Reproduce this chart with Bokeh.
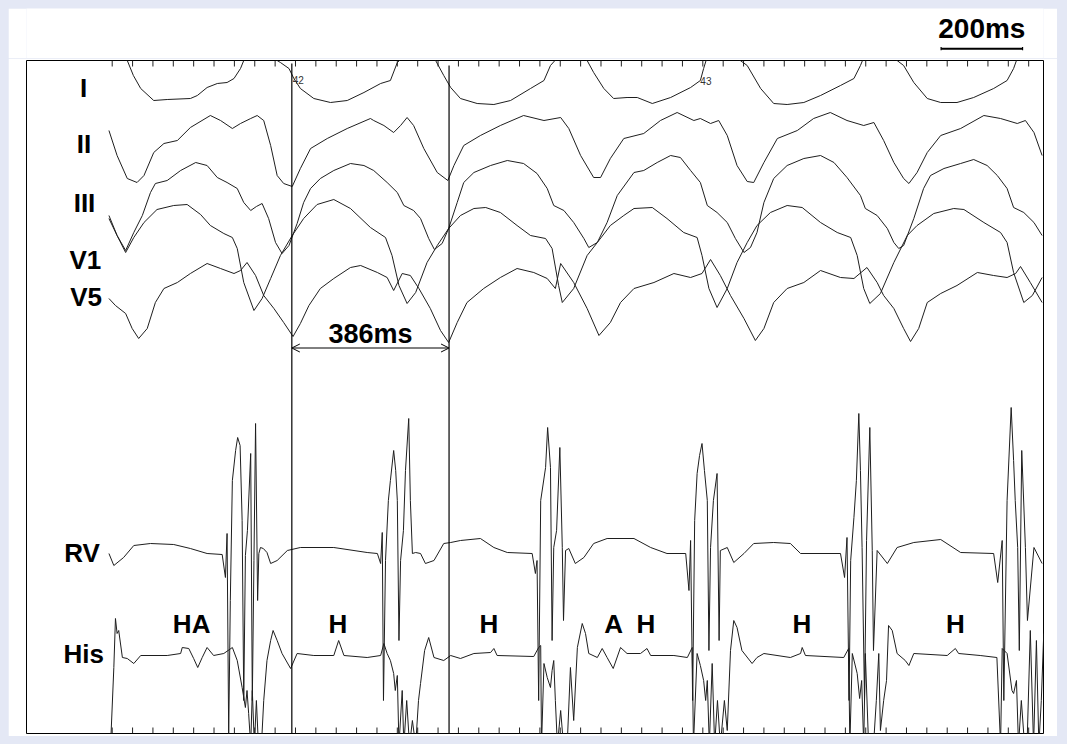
from bokeh.plotting import figure
from bokeh.models import Range1d, Arrow, OpenHead, GlobalInlineStyleSheet
from bokeh.layouts import column
from bokeh.embed import file_html
from bokeh.resources import INLINE
from bokeh.core.properties import value

# ---------------- data: (time in ms, amplitude in display units) ----------------
lead_I = [(141,45),(187,30),(202,15),(220,2),(252,-10),(285,-9),(342,-8),(359,-5),(383,3),(408,7),
          (432,8),(449,12),(465,22),(473,30),(514,45),(555,30),(563,28),(584,22),(596,12),(612,2),
          (645,-8),(686,-12),(727,-10),(768,-2),(809,7),(833,10),(850,28),(895,45),(944,30),(964,15),
          (981,3),(1005,-8),(1046,-13),(1087,-14),(1128,-10),(1177,2),(1210,10),(1226,25),(1270,45),(1316,30),
          (1332,18),(1357,2),(1381,-8),(1414,-7),(1439,-7),(1476,-13),(1521,-7),(1570,3),(1594,10),(1602,22),
          (1608,30),(1648,45),(1692,30),(1709,25),(1742,2),(1774,-13),(1807,-14),(1848,-12),(1889,-5),(1938,5),
          (1971,12),(1987,25),(1992,30),(2036,45),(2077,30),(2093,25),(2118,8),(2151,-8),(2184,-12),(2224,-12),
          (2265,-7),(2314,2),(2347,10),(2363,22),(2370,30),(2404,45),(2436,45)]

lead_II = [(142,20),(162,-5),(187,-28),(211,-32),(228,-25),(252,-2),(277,7),(310,10),(342,23),(391,35),
           (416,30),(445,22),(465,27),(490,32),(506,35),(522,30),(539,5),(555,-25),(571,-33),(592,-36),
           (612,-18),(637,2),(678,12),(727,22),(784,32),(792,30),(817,25),(841,18),(858,25),(874,33),
           (890,25),(915,2),(948,-22),(974,-30),(989,-15),(1013,5),(1054,15),(1103,25),(1160,35),(1210,30),
           (1251,33),(1271,22),(1300,-5),(1332,-27),(1349,-27),(1373,-8),(1406,12),(1455,17),(1496,30),(1537,38),
           (1578,30),(1594,32),(1619,27),(1639,30),(1660,15),(1684,-15),(1709,-31),(1725,-32),(1750,-12),(1783,12),
           (1832,20),(1872,32),(1913,38),(1954,30),(1995,25),(2020,28),(2044,10),(2069,-12),(2093,-28),(2106,-33),
           (2126,-22),(2151,-2),(2184,15),(2233,22),(2290,35),(2331,32),(2372,27),(2392,30),(2413,18),(2433,-5)]

lead_III = [(142,-8),(162,-25),(183,-40),(203,-22),(224,-5),(244,18),(256,27),(285,30),(318,40),(355,48),
            (383,45),(408,33),(432,28),(457,22),(473,8),(490,0),(504,4),(518,7),(534,-8),(551,-32),
            (567,-43),(584,-35),(604,-13),(620,8),(637,22),(661,32),(694,40),(735,47),(768,45),(792,40),
            (825,28),(850,18),(866,5),(890,0),(907,-8),(927,-28),(941,-39),(960,-33),(976,-18),(997,8),
            (1013,28),(1038,38),(1079,45),(1120,50),(1160,47),(1193,37),(1218,22),(1234,5),(1259,0),(1283,-12),
            (1308,-28),(1320,-37),(1341,-32),(1365,-12),(1390,15),(1431,38),(1455,40),(1488,48),(1521,55),(1545,53),
            (1570,40),(1594,28),(1611,5),(1635,-2),(1660,-12),(1680,-28),(1701,-42),(1717,-37),(1733,-22),(1750,8),
            (1774,32),(1807,45),(1848,52),(1889,55),(1922,48),(1954,33),(1987,15),(1999,2),(2028,-5),(2053,-18),
            (2069,-32),(2081,-38),(2093,-35),(2118,-8),(2142,22),(2159,35),(2192,42),(2233,47),(2265,51),(2298,45),
            (2323,35),(2347,22),(2363,3),(2388,-2),(2413,-12),(2433,-25)]

lead_V1 = [(142,40),(162,20),(183,3),(203,18),(228,33),(260,46),(301,50),(334,51),(367,41),(391,30),
           (424,22),(445,18),(457,7),(473,-27),(498,-55),(518,-43),(539,-23),(563,0),(592,20),(620,37),
           (653,51),(694,56),(735,47),(784,28),(821,18),(837,0),(854,-30),(874,-48),(895,-37),(923,-7),
           (948,10),(976,27),(1005,40),(1038,47),(1067,48),(1103,43),(1144,30),(1177,20),(1214,17),(1230,7),
           (1246,-30),(1255,-47),(1283,-33),(1316,0),(1341,13),(1373,30),(1406,40),(1431,47),(1476,48),(1512,37),
           (1553,23),(1586,18),(1598,0),(1615,-33),(1635,-52),(1660,-33),(1684,-7),(1709,13),(1733,30),(1766,43),
           (1807,50),(1844,48),(1889,33),(1930,23),(1963,18),(1979,0),(1995,-33),(2010,-48),(2036,-38),(2069,-7),
           (2102,20),(2126,30),(2167,42),(2216,47),(2241,46),(2290,33),(2331,23),(2347,13),(2363,-17),(2388,-47),
           (2409,-40),(2433,-22)]

lead_V5 = [(142,2),(158,-5),(183,-13),(199,-28),(215,-38),(236,-28),(256,-2),(277,12),(310,18),(342,27),
           (383,37),(416,32),(449,27),(465,30),(481,38),(502,25),(522,5),(547,-8),(571,-22),(594,-36),
           (612,-23),(633,-5),(661,12),(694,22),(735,33),(760,35),(801,28),(825,23),(841,10),(862,27),
           (882,25),(903,12),(931,-8),(956,-30),(976,-42),(997,-22),(1021,-2),(1062,12),(1103,23),(1144,32),
           (1185,28),(1218,22),(1238,12),(1251,37),(1283,18),(1316,-8),(1345,-35),(1373,-22),(1398,-2),(1431,12),
           (1480,18),(1529,27),(1570,23),(1598,27),(1619,41),(1643,25),(1668,5),(1701,-18),(1729,-40),(1750,-28),
           (1774,-2),(1807,12),(1848,18),(1889,30),(1938,23),(1971,22),(2003,33),(2028,18),(2044,5),(2069,-8),
           (2093,-28),(2110,-41),(2130,-28),(2151,-2),(2184,7),(2224,15),(2274,28),(2314,25),(2347,23),(2368,27),
           (2380,34),(2404,18),(2433,-2)]

rv = [(142,0),(154,-12),(178,-4),(203,8),(244,10),(301,9),(342,5),(383,0),(420,-1),
      (428,-24),(432,20),(436,-182),(440,-47),(445,73),(453,103),(458,116),(464,108),(469,33),(473,-147),
      (477,-2),(482,23),(490,100),(494,-147),(498,-7),(502,130),(507,-47),(510,0),(514,6),(521,5),
      (530,1),(539,-10),(555,-7),(580,3),(612,6),(694,6),(776,1),(801,0),
      (809,-10),(813,21),(816,-147),(821,-7),(828,53),(833,73),(841,103),(846,83),(850,53),(854,-87),
      (858,-7),(865,23),(870,83),(878,135),(882,53),(887,0),(895,1),(907,0),(919,-10),(940,-7),
      (964,10),(981,11),(1005,13),(1054,15),(1087,6),(1120,1),(1181,0),
      (1189,-20),(1193,-7),(1197,-147),(1202,53),(1214,86),(1219,126),(1226,86),(1230,-87),(1234,6),(1241,23),
      (1249,106),(1255,6),(1258,-67),(1263,3),(1271,5),(1287,-10),(1308,-4),(1332,10),(1365,15),(1431,15),
      (1472,6),(1512,0),(1558,0),
      (1566,-37),(1570,13),(1575,-147),(1580,33),(1586,80),(1592,98),(1598,110),(1604,83),(1611,53),(1615,-97),
      (1619,6),(1626,53),(1635,80),(1640,-87),(1643,3),(1660,6),(1676,-9),(1701,0),(1725,10),(1774,11),
      (1815,10),(1840,0),(1938,0),
      (1948,-24),(1954,16),(1959,-147),(1963,-7),(1971,36),(1977,73),(1983,140),(1987,83),(1991,6),(1997,-147),
      (2002,13),(2010,126),(2016,3),(2019,-97),(2028,3),(2053,-10),(2077,6),(2118,11),(2184,14),(2233,1),(2314,0),
      (2324,-29),(2335,13),(2339,-147),(2347,53),(2357,146),(2363,93),(2367,53),(2373,6),(2377,-97),(2383,103),
      (2392,6),(2397,-67),(2413,6),(2433,-10)]

his = [(146,-90),(154,-12),(158,37),(162,22),(166,25),(175,-2),(187,-3),(203,-8),(220,0),(285,0),
       (318,2),(322,8),(338,7),(350,-3),(360,-12),(371,-2),(383,8),(399,0),(424,2),(445,8),
       (457,-5),(469,-32),(477,-52),(481,-35),(485,-58),(490,-90),(494,-35),(499,-90),(504,-45),(509,-90),
       (517,-85),(522,-45),(530,-5),(539,15),(545,25),(555,15),(567,2),(588,-13),(604,2),(645,0),
       (694,0),(706,15),(719,0),(776,-2),(809,0),
       (817,12),(825,2),(833,-5),(841,-18),(845,-35),(850,-20),(854,-90),(862,-35),(866,-90),(873,-45),
       (880,-90),(887,-65),(895,-90),(902,-45),(907,-28),(917,5),(927,18),(940,-2),(964,-5),(981,0),
       (1005,-3),(1038,2),(1079,3),(1087,7),(1095,0),(1185,-1),
       (1197,8),(1202,10),(1204,-90),(1210,-8),(1218,-22),(1226,-32),(1230,-15),(1234,-5),(1238,-45),(1243,-90),
       (1251,-55),(1258,-90),(1267,-90),(1275,-12),(1283,-65),(1292,8),(1304,32),(1312,22),(1320,2),(1341,-2),
       (1353,7),(1365,-2),(1380,-13),(1398,8),(1414,2),(1447,2),(1463,7),(1472,0),(1529,0),(1562,-2),
       (1574,8),(1577,-90),(1586,2),(1594,-10),(1602,-25),(1607,-45),(1611,-25),(1616,-90),(1623,-8),(1629,-90),
       (1636,-45),(1643,-90),(1653,-45),(1660,-75),(1668,5),(1676,35),(1684,28),(1696,5),(1721,-8),(1733,-2),
       (1750,2),(1815,-2),(1840,2),(1844,8),(1852,0),(1946,-2),
       (1958,7),(1961,-90),(1967,2),(1979,-18),(1985,-43),(1990,-25),(1995,-90),(1999,2),(2007,-90),(2019,-90),
       (2026,-45),(2032,2),(2036,-75),(2044,-45),(2051,-25),(2056,30),(2065,25),(2077,2),(2097,-5),(2106,-10),
       (2118,2),(2200,0),(2220,7),(2228,2),(2281,0),(2322,-2),
       (2331,-90),(2335,7),(2347,2),(2359,-35),(2363,-38),(2370,-25),(2375,-90),(2382,-45),(2390,-90),(2396,-90),
       (2404,25),(2412,-90),(2419,15),(2425,-90),(2431,-45),(2437,22)]

channel_names = ["I", "II", "III", "V1", "V5", "RV", "His"]
channel_traces = [lead_I, lead_II, lead_III, lead_V1, lead_V5, rv, his]

# annotations
cursor_ms = [591, 977]
interval_label = "386ms"
scale_bar_ms = 200
tick_ms = list(range(150, 2401, 50))
beat_numbers = ["42", "43"]
beat_number_ms = [593, 1594]
his_marks = ["HA", "H", "H", "A", "H", "H", "H"]
his_mark_ms = [345, 704, 1075, 1381, 1460, 1843, 2220]

# ---------------- layout (positions / styles) ----------------
channel_offset = [643, 583, 523, 478, 433, 180, 78]
label_x = [80, 81, 82, 84, 86, 76, 80]
TXT_SHIFT = 10  # compensate the text glyph's baseline placement
label_y = [636 + TXT_SHIFT, 580 + TXT_SHIFT, 521 + TXT_SHIFT, 464 + TXT_SHIFT,
           427 + TXT_SHIFT, 171 + TXT_SHIFT, 70 + TXT_SHIFT]

X0, X1 = -60.4, 2436.4
FONT = value("Liberation Sans")
TRACE = "#1e1e1e"

top = figure(width=1049, height=50, x_range=Range1d(X0, X1), y_range=Range1d(0, 50),
             output_backend="svg", toolbar_location=None, x_axis_type=None, y_axis_type=None,
             min_border=0, min_border_left=18, min_border_right=14)
top.outline_line_color = None
top.grid.visible = False
top.background_fill_color = "white"
top.border_fill_color = "white"

bar_start = 2185
bar_end = bar_start + scale_bar_ms
top.segment(x0=[bar_start], y0=[9.7], x1=[bar_end], y1=[9.7], line_color="black", line_width=2)
top.segment(x0=[bar_start, bar_end], y0=[8.2, 8.2], x1=[bar_start, bar_end], y1=[11.4, 11.4],
            line_color="black", line_width=1.2)
top.text(x=[(bar_start + bar_end) / 2], y=[19.7 + TXT_SHIFT], text=[f"{scale_bar_ms}ms"], text_font=FONT,
         text_font_style="bold", text_font_size="28px", text_align="center",
         text_baseline="alphabetic", text_color="black")

p = figure(width=1049, height=678, x_range=Range1d(X0, X1), y_range=Range1d(0, 673),
           output_backend="svg", toolbar_location=None, x_axis_type=None, y_axis_type=None,
           min_border=0, min_border_left=18, min_border_right=14, min_border_top=2,
           min_border_bottom=3)
p.grid.visible = False
p.outline_line_color = "black"
p.outline_line_width = 1
p.background_fill_color = "white"
p.border_fill_color = "white"

# ticks on top and bottom edges, pointing inward
p.segment(x0=tick_ms, y0=[673] * len(tick_ms), x1=tick_ms, y1=[667] * len(tick_ms),
          line_color="#222222", line_width=1)
p.segment(x0=tick_ms, y0=[0] * len(tick_ms), x1=tick_ms, y1=[6] * len(tick_ms),
          line_color="#222222", line_width=1)

# traces
for trace, off in zip(channel_traces, channel_offset):
    xs = [t for t, a in trace]
    ys = [off + a for t, a in trace]
    p.line(xs, ys, line_color=TRACE, line_width=1)

# cursor lines
p.segment(x0=cursor_ms, y0=[0, 0], x1=cursor_ms, y1=[670, 668], line_color="black", line_width=1.2)

# interval arrow
p.add_layout(Arrow(start=OpenHead(size=8, line_width=1, line_color="black"),
                   end=OpenHead(size=8, line_width=1, line_color="black"),
                   x_start=cursor_ms[0], y_start=385.5, x_end=cursor_ms[1], y_end=385.5,
                   line_color="black", line_width=1))
p.text(x=[(cursor_ms[0] + cursor_ms[1]) / 2], y=[390 + TXT_SHIFT], text=[interval_label], text_font=FONT,
       text_font_style="bold", text_font_size="27px", text_align="center",
       text_baseline="alphabetic", text_color="black")

# channel labels
p.text(x=label_x, y=label_y, text=channel_names, text_font=FONT, text_font_style="bold",
       text_font_size="26px", text_align="center", text_baseline="alphabetic", text_color="black")

# His annotations
p.text(x=his_mark_ms, y=[100 + TXT_SHIFT] * len(his_mark_ms), text=his_marks, text_font=FONT,
       text_font_style="bold", text_font_size="26px", text_align="center",
       text_baseline="alphabetic", text_color="black")

# beat numbers
p.text(x=beat_number_ms, y=[650 + 4, 649 + 4], text=beat_numbers, text_font=FONT,
       text_font_size="10px", text_align="left", text_baseline="alphabetic", text_color="#333333")

layout = column(top, p, spacing=0)
layout.stylesheets = [GlobalInlineStyleSheet(css="body { background-color: #e4e8f5; margin: 8px; }")]

open("out.html", "w").write(file_html(layout, INLINE))
